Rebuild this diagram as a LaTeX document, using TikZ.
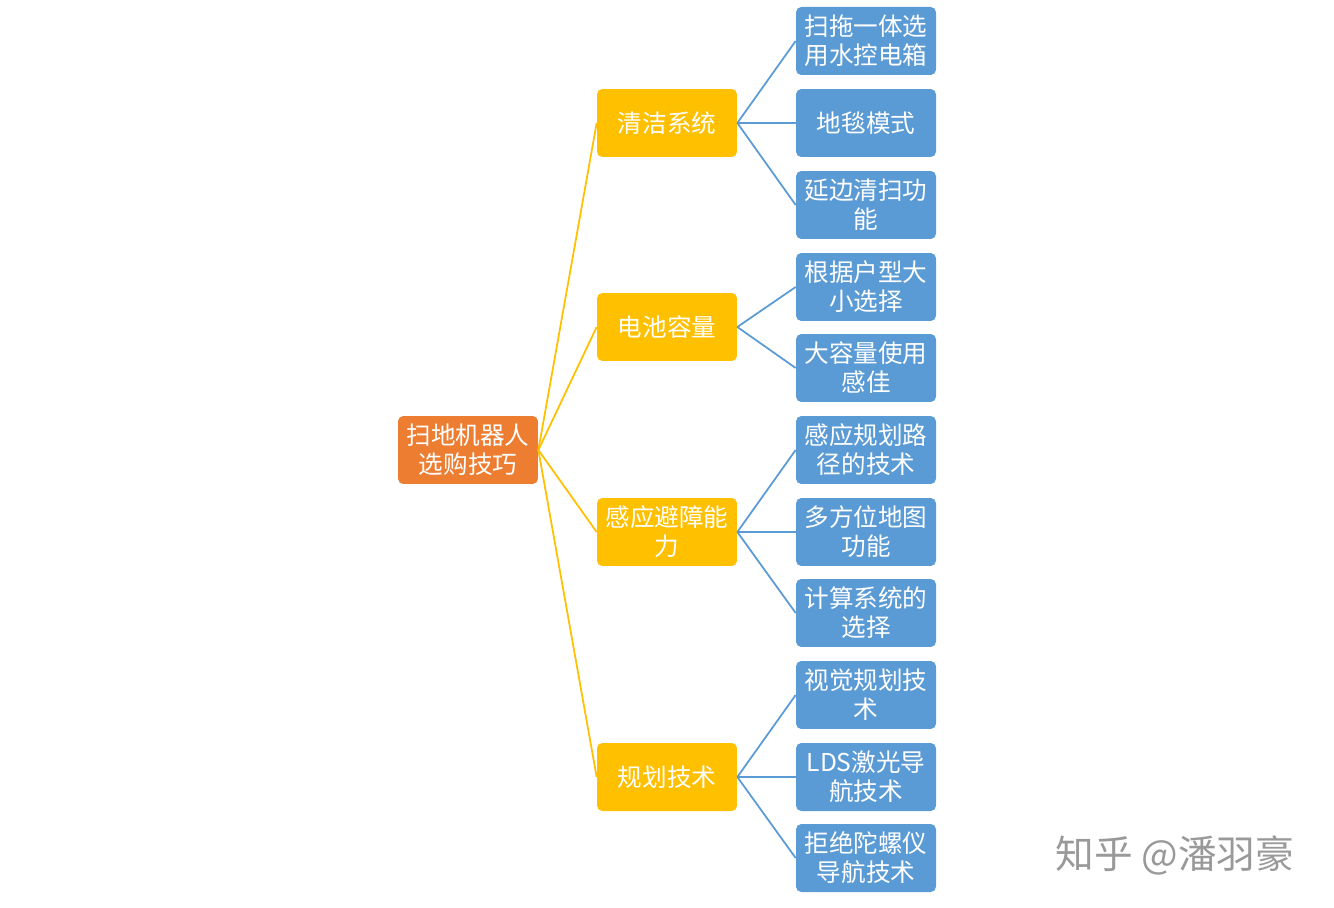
\documentclass[tikz,border=0pt]{standalone}
\usepackage{fontspec}
\setmainfont{Noto Sans CJK SC}
\definecolor{rootc}{HTML}{ED7D31}
\definecolor{midc}{HTML}{FFC000}
\definecolor{leafc}{HTML}{5B9BD5}
\tikzset{
  box/.style={rounded corners=3pt, minimum width=2.8cm, minimum height=1.36cm,
    text=white, align=center, font=\fontsize{14}{16.5}\selectfont, inner sep=1pt},
  root/.style={box, fill=rootc},
  mid/.style={box, fill=midc},
  leaf/.style={box, fill=leafc},
  yline/.style={midc, line width=1pt},
  bline/.style={leafc, line width=1pt}
}
\begin{document}
\begin{tikzpicture}[x=0.02cm,y=-0.02cm]
\useasboundingbox (0,0) rectangle (1334,908);

\node[root] (r) at (468,450) {扫地机器人\\选购技巧};

\node[mid] (m1) at (667,123) {清洁系统};
\node[mid] (m2) at (667,327) {电池容量};
\node[mid] (m3) at (667,532) {感应避障能\\力};
\node[mid] (m4) at (667,777) {规划技术};

\node[leaf] (l1) at (866,41) {扫拖一体选\\用水控电箱};
\node[leaf] (l2) at (866,123) {地毯模式};
\node[leaf] (l3) at (866,205) {延边清扫功\\能};
\node[leaf] (l4) at (866,287) {根据户型大\\小选择};
\node[leaf] (l5) at (866,368) {大容量使用\\感佳};
\node[leaf] (l6) at (866,450) {感应规划路\\径的技术};
\node[leaf] (l7) at (866,532) {多方位地图\\功能};
\node[leaf] (l8) at (866,613) {计算系统的\\选择};
\node[leaf] (l9) at (866,695) {视觉规划技\\术};
\node[leaf] (l10) at (866,777) {LDS激光导\\航技术};
\node[leaf] (l11) at (866,858) {拒绝陀螺仪\\导航技术};

\foreach \m in {m1,m2,m3,m4}
  \draw[yline] (r.east) -- (\m.west);
\foreach \m/\l in {m1/l1,m1/l2,m1/l3,m2/l4,m2/l5,m3/l6,m3/l7,m3/l8,m4/l9,m4/l10,m4/l11}
  \draw[bline] (\m.east) -- (\l.west);

\node[text=black!40, font=\fontsize{22}{26}\selectfont] (wm) at (1175,855) {知乎 @潘羽豪};
\end{tikzpicture}
\end{document}
